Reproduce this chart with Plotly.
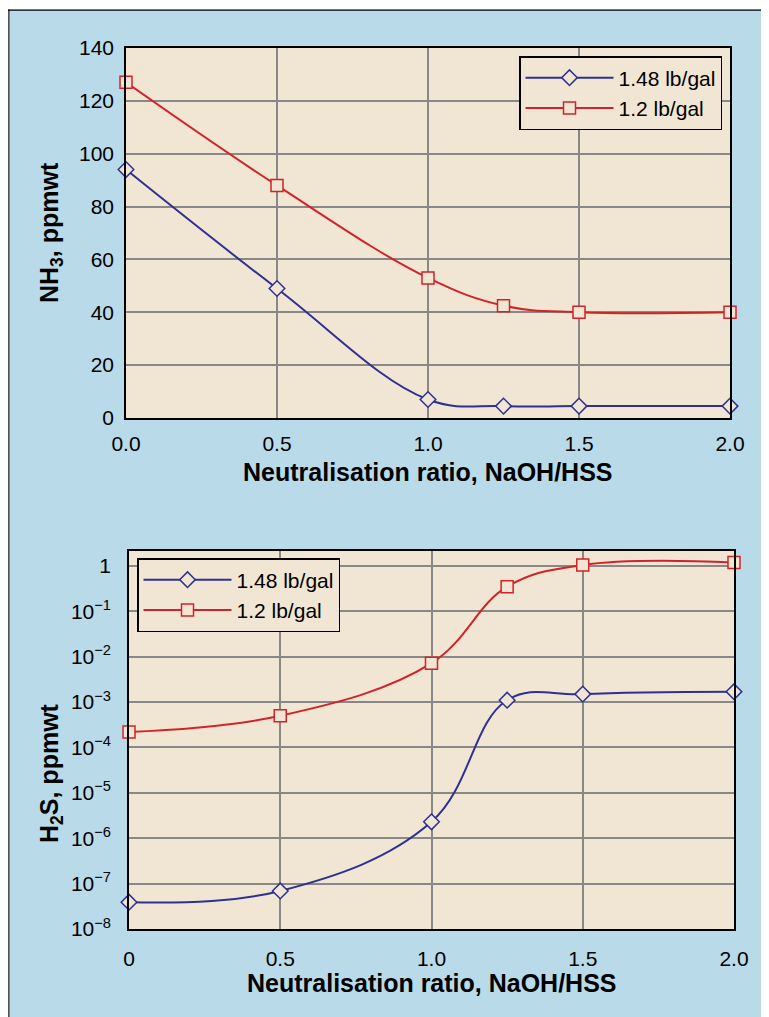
import plotly.graph_objects as go

# ---------------- data ----------------
ratio = [0.0, 0.5, 1.0, 1.25, 1.5, 2.0]
nh3_148 = [94, 49, 7, 4.5, 4.5, 4.5]
nh3_12 = [127, 88, 53, 42.5, 40, 40]
h2s_148 = [3.9e-8, 6.9e-8, 2.3e-6, 1.1e-3, 1.5e-3, 1.7e-3]
h2s_12 = [2.2e-4, 5.0e-4, 7.2e-3, 0.35, 1.05, 1.2]
series_names = ["1.48 lb/gal", "1.2 lb/gal"]

x_ticks = [0.0, 0.5, 1.0, 1.5, 2.0]
top_x_labels = ["0.0", "0.5", "1.0", "1.5", "2.0"]
bottom_x_labels = ["0", "0.5", "1.0", "1.5", "2.0"]
top_y_ticks = [0, 20, 40, 60, 80, 100, 120, 140]
log_exponents = [-8, -7, -6, -5, -4, -3, -2, -1, 0]
log_tick_vals = [10.0 ** e for e in log_exponents]
log_tick_labels = ["10<sup>\u2212%d</sup>" % (-e) if e < 0 else "1" for e in log_exponents]

x_title = "<b>Neutralisation ratio, NaOH/HSS</b>"
top_y_title = "<b>NH<sub>3</sub>, ppmwt</b>"
bottom_y_title = "<b>H<sub>2</sub>S, ppmwt</b>"

# ---------------- style ----------------
W, H = 769, 1017
OFF = 8  # page body margin in which the figure sits
BLUE_BG = "#b9dae9"
BEIGE = "#f1e6d3"
GRID = "#888888"
C_BLUE = "#2e3192"
C_RED = "#d2232a"
FONT = "Liberation Sans"


def fx(px):
    return (px - OFF) / W


def fy(py):
    return 1 - (py - OFF) / H


fig = go.Figure()

styles = [
    dict(color=C_BLUE, symbol="diamond", size=12),
    dict(color=C_RED, symbol="square", size=12),
]

for name, ys, st in zip(series_names, [nh3_148, nh3_12], styles):
    fig.add_trace(go.Scatter(
        x=ratio, y=ys, name=name, mode="lines+markers",
        line=dict(color=st["color"], width=2, shape="spline", smoothing=1.1),
        marker=dict(symbol=st["symbol"], size=st["size"], color=BEIGE,
                    line=dict(color=st["color"], width=1.5)),
        cliponaxis=False, xaxis="x", yaxis="y", legend="legend",
    ))

for name, ys, st in zip(series_names, [h2s_148, h2s_12], styles):
    fig.add_trace(go.Scatter(
        x=ratio, y=ys, name=name, mode="lines+markers",
        line=dict(color=st["color"], width=2, shape="spline", smoothing=1.1),
        marker=dict(symbol=st["symbol"], size=st["size"], color=BEIGE,
                    line=dict(color=st["color"], width=1.5)),
        cliponaxis=False, xaxis="x2", yaxis="y2", legend="legend2",
    ))

axis_common = dict(
    showline=True, mirror=True, linecolor="black", linewidth=1.5,
    showgrid=True, gridcolor=GRID, gridwidth=1.5, zeroline=False,
    ticks="", automargin=False,
    tickfont=dict(family=FONT, size=21, color="black"),
)

legend_common = dict(
    bgcolor=BEIGE, bordercolor="black", borderwidth=1.5,
    font=dict(family=FONT, size=21, color="black"),
    xanchor="left", yanchor="top", itemwidth=88,
    tracegroupgap=0,
)

fig.update_layout(
    width=W, height=H,
    margin=dict(l=0, r=0, t=0, b=0, autoexpand=False),
    paper_bgcolor=BLUE_BG, plot_bgcolor=BEIGE,
    font=dict(family=FONT, color="black"),
    showlegend=True,
    xaxis=dict(domain=[fx(126), fx(730)], range=[0, 2], anchor="y",
               tickvals=x_ticks, ticktext=top_x_labels, ticklabelstandoff=6,
               **axis_common),
    yaxis=dict(domain=[fy(418), fy(48)], range=[0, 140], anchor="x",
               tickvals=top_y_ticks, ticklabelstandoff=6, **axis_common),
    xaxis2=dict(domain=[fx(129), fx(734)], range=[0, 2], anchor="y2",
                tickvals=x_ticks, ticktext=bottom_x_labels, ticklabelstandoff=10,
                **axis_common),
    yaxis2=dict(domain=[fy(929), fy(551)], type="log", range=[-8, 0.33], anchor="x2",
                tickvals=log_tick_vals, ticktext=log_tick_labels, ticklabelstandoff=12,
                **axis_common),
    legend=dict(x=fx(519), y=fy(56), **legend_common),
    legend2=dict(x=fx(137), y=fy(558), **legend_common),
    annotations=[
        dict(text=x_title, xref="paper", yref="paper", x=fx(428), y=fy(472),
             showarrow=False, xanchor="center", yanchor="middle",
             font=dict(family=FONT, size=25, color="black")),
        dict(text=x_title, xref="paper", yref="paper", x=fx(432), y=fy(983),
             showarrow=False, xanchor="center", yanchor="middle",
             font=dict(family=FONT, size=25, color="black")),
        dict(text=top_y_title, xref="paper", yref="paper", x=fx(51), y=fy(233),
             showarrow=False, xanchor="center", yanchor="middle", textangle=-90,
             font=dict(family=FONT, size=25, color="black")),
        dict(text=bottom_y_title, xref="paper", yref="paper", x=fx(51), y=fy(773),
             showarrow=False, xanchor="center", yanchor="middle", textangle=-90,
             font=dict(family=FONT, size=25, color="black")),
    ],
    shapes=[
        # white strip above the frame
        dict(type="rect", xref="paper", yref="paper", x0=-0.01, x1=1.01,
             y0=fy(9.5), y1=1.01, fillcolor="white", line=dict(width=0), layer="below"),
        # frame lines (left and top)
        dict(type="line", xref="paper", yref="paper", x0=fx(8.8), x1=fx(8.8),
             y0=-0.01, y1=fy(9.5), line=dict(color="#555555", width=1.8)),
        dict(type="line", xref="paper", yref="paper", x0=fx(8), x1=1.01,
             y0=fy(10.2), y1=fy(10.2), line=dict(color="black", width=1.2)),
    ],
)

fig.write_html("out.html")
